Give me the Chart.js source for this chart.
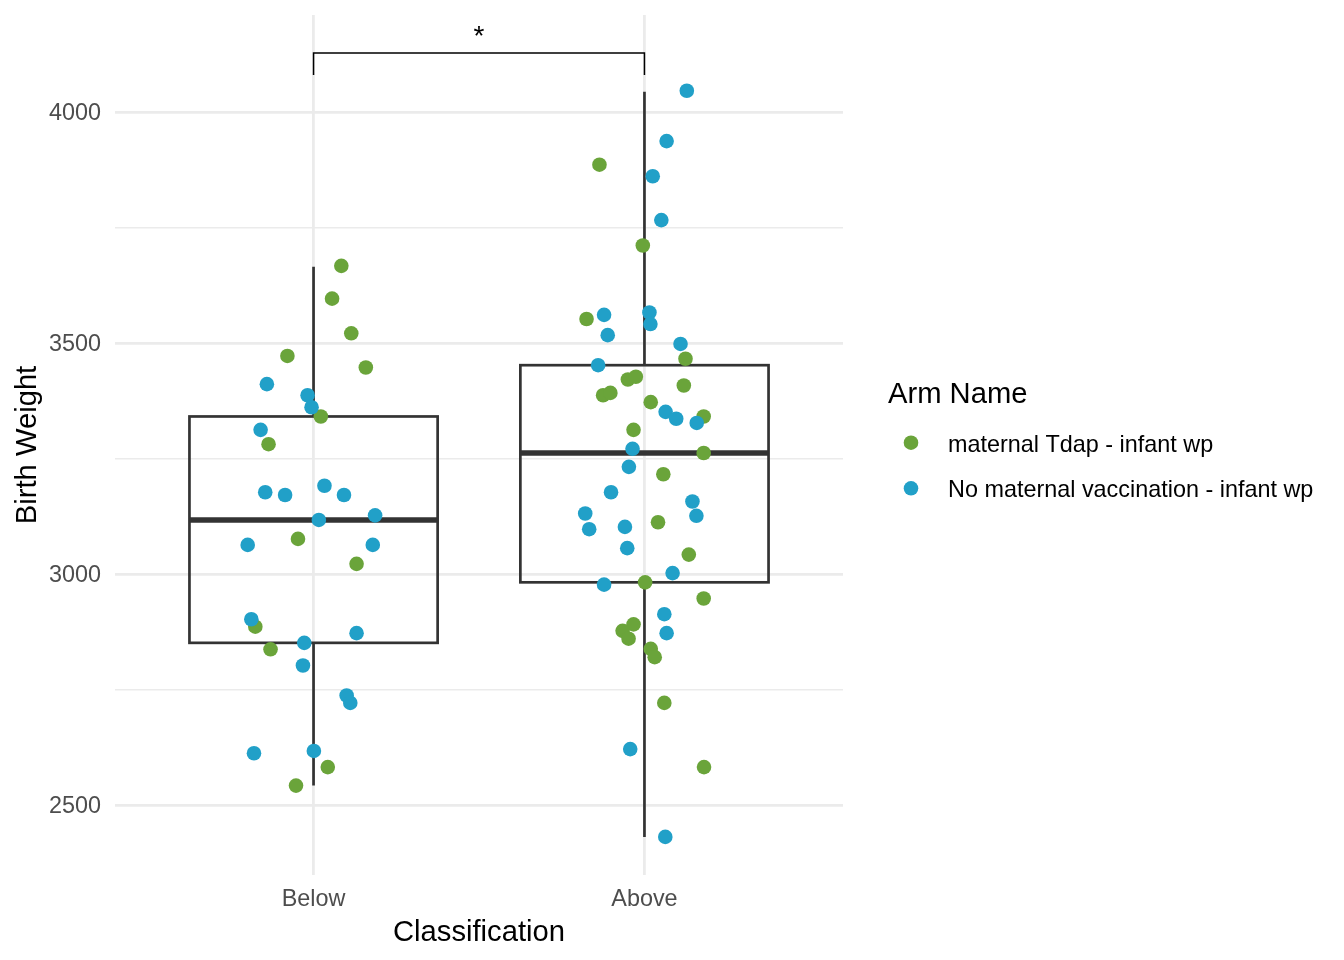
<!DOCTYPE html>
<html>
<head>
<meta charset="utf-8">
<title>Birth Weight by Classification</title>
<script src="https://cdn.jsdelivr.net/npm/chart.js@4.4.1/dist/chart.umd.min.js"></script>
<style>
  html, body { margin: 0; padding: 0; background: #ffffff; }
  #wrap { width: 1344px; height: 960px; position: relative; }
</style>
</head>
<body>
<div id="wrap"><canvas id="bwChart"></canvas></div>
<script>
// categories and tick values
const categories = ['Below', 'Above'];
const yGridValues = [2500, 2750, 3000, 3250, 3500, 3750, 4000];
const yTickLabels = [2500, 3000, 3500, 4000];
const seriesNames = ['maternal Tdap - infant wp', 'No maternal vaccination - infant wp'];

// jittered points: [x position (1 = Below, 2 = Above), birth weight]
const tdapBelow = [[1.084,3667],[1.056,3596],[1.114,3521],[0.921,3472],[1.158,3447],[1.022,3341],[0.864,3281],
  [0.953,3076],[1.130,3022],[0.824,2886],[0.870,2837],[1.043,2582],[0.947,2542]];
const noVaxBelow = [[0.859,3411],[0.982,3387],[0.994,3361],[0.840,3312],[0.854,3177],[0.914,3171],[1.033,3191],
  [1.092,3171],[1.186,3127],[1.016,3117],[0.801,3063],[1.179,3063],[0.812,2902],[0.972,2851],[1.130,2872],
  [0.968,2802],[1.100,2737],[1.111,2721],[0.820,2612],[1.001,2617]];
const tdapAbove = [[1.864,3886],[1.995,3711],[1.825,3552],[2.124,3466],[1.950,3421],[1.974,3427],[2.119,3408],
  [1.875,3387],[1.897,3392],[2.019,3372],[2.179,3341],[1.967,3312],[2.179,3262],[2.057,3216],[2.041,3112],
  [2.134,3042],[2.002,2982],[2.179,2947],[1.967,2891],[1.934,2877],[1.952,2860],[2.019,2838],[2.031,2820],
  [2.060,2721],[2.180,2582]];
const noVaxAbove = [[2.128,4046],[2.067,3937],[2.025,3861],[2.051,3766],[1.878,3561],[2.015,3566],[2.018,3541],
  [1.889,3517],[2.109,3498],[1.860,3452],[2.064,3351],[2.096,3336],[2.158,3327],[1.964,3271],[1.953,3232],
  [1.899,3177],[2.145,3157],[2.157,3126],[1.821,3131],[1.833,3097],[1.941,3102],[1.948,3056],[2.085,3002],
  [1.878,2977],[2.060,2913],[2.067,2872],[1.957,2621],[2.063,2431]];

// box plot summary per category
const boxLow = [2542, 2431];
const boxQ1 = [2851, 2982];
const boxMedian = [3117, 3262];
const boxQ3 = [3341, 3452];
const boxHigh = [3665, 4044];

// significance bracket
const bracketTop = 4128;
const bracketTip = 4080;
const bracketLabel = '*';

const GREEN = '#6aa43a';
const BLUE = '#21a0c8';
const FONT = "'Liberation Sans', Arial, Helvetica, sans-serif";

const toPoints = arr => arr.map(p => ({ x: p[0], y: p[1] }));

const boxPlot = {
  id: 'boxPlot',
  beforeDatasetsDraw(chart) {
    const { ctx, scales: { x, y } } = chart;
    ctx.save();
    ctx.strokeStyle = '#333333';
    categories.forEach((c, i) => {
      const cx = x.getPixelForValue(i + 1);
      const left = x.getPixelForValue(i + 1 - 0.375);
      const right = x.getPixelForValue(i + 1 + 0.375);
      const yq1 = y.getPixelForValue(boxQ1[i]);
      const yq3 = y.getPixelForValue(boxQ3[i]);
      ctx.lineWidth = 2.7;
      ctx.beginPath();
      ctx.moveTo(cx, y.getPixelForValue(boxHigh[i]));
      ctx.lineTo(cx, yq3);
      ctx.moveTo(cx, yq1);
      ctx.lineTo(cx, y.getPixelForValue(boxLow[i]));
      ctx.stroke();
      ctx.strokeRect(left, yq3, right - left, yq1 - yq3);
      ctx.lineWidth = 5.4;
      ctx.beginPath();
      const ym = y.getPixelForValue(boxMedian[i]);
      ctx.moveTo(left, ym);
      ctx.lineTo(right, ym);
      ctx.stroke();
    });

    // bracket between the two groups
    const x1 = x.getPixelForValue(1);
    const x2 = x.getPixelForValue(2);
    const yt = y.getPixelForValue(bracketTop);
    const yb = y.getPixelForValue(bracketTip);
    ctx.strokeStyle = '#000000';
    ctx.lineWidth = 1.5;
    ctx.beginPath();
    ctx.moveTo(x1, yb);
    ctx.lineTo(x1, yt);
    ctx.lineTo(x2, yt);
    ctx.lineTo(x2, yb);
    ctx.stroke();
    ctx.fillStyle = '#000000';
    ctx.font = '28px ' + FONT;
    ctx.textAlign = 'center';
    ctx.textBaseline = 'alphabetic';
    ctx.fillText(bracketLabel, (x1 + x2) / 2, yt - 8);
    ctx.restore();
  },
  afterDraw(chart) {
    const { ctx, chartArea } = chart;
    ctx.save();
    ctx.fillStyle = '#000000';
    ctx.textBaseline = 'alphabetic';
    ctx.font = '29.2px ' + FONT;

    // axis titles
    ctx.textAlign = 'center';
    ctx.fillText('Classification', (chartArea.left + chartArea.right) / 2, 941);
    ctx.save();
    ctx.translate(36, (chartArea.top + chartArea.bottom) / 2);
    ctx.rotate(-Math.PI / 2);
    ctx.fillText('Birth Weight', 0, 0);
    ctx.restore();

    // legend
    ctx.textAlign = 'left';
    ctx.fillText('Arm Name', 888, 403);
    ctx.font = '23.4px ' + FONT;
    const colors = [GREEN, BLUE];
    seriesNames.forEach((name, i) => {
      const cy = 442.7 + i * 45.6;
      ctx.fillStyle = colors[i];
      ctx.beginPath();
      ctx.arc(911, cy, 7.3, 0, Math.PI * 2);
      ctx.fill();
      ctx.fillStyle = '#000000';
      ctx.fillText(name, 948, cy + 9);
    });
    ctx.restore();
  }
};

new Chart(document.getElementById('bwChart'), {
  type: 'scatter',
  data: {
    datasets: [
      { label: seriesNames[0], data: toPoints(tdapBelow.concat(tdapAbove)), backgroundColor: GREEN, order: 2 },
      { label: seriesNames[1], data: toPoints(noVaxBelow.concat(noVaxAbove)), backgroundColor: BLUE, order: 1 }
    ]
  },
  options: {
    responsive: true,
    maintainAspectRatio: false,
    animation: false,
    layout: { padding: { top: 15, right: 501, left: 0, bottom: 0 } },
    elements: { point: { radius: 7.3, borderWidth: 0, hoverRadius: 7.3 } },
    plugins: { legend: { display: false }, tooltip: { enabled: false } },
    scales: {
      x: {
        type: 'linear',
        min: 0.4,
        max: 2.6,
        afterFit(s) { s.height = 85; s.paddingLeft = 0; s.paddingRight = 0; },
        afterBuildTicks(s) { s.ticks = categories.map((c, i) => ({ value: i + 1 })); },
        grid: { color: '#ebebeb', lineWidth: 2.8, drawTicks: false },
        border: { display: false },
        ticks: {
          padding: 11,
          color: '#4d4d4d',
          font: { family: FONT, size: 23.4 },
          callback: v => categories[v - 1]
        }
      },
      y: {
        type: 'linear',
        min: 2348.5,
        max: 4210,
        afterFit(s) { s.width = 115; s.paddingTop = 0; s.paddingBottom = 0; },
        afterBuildTicks(s) { s.ticks = yGridValues.map(v => ({ value: v })); },
        grid: {
          color: '#ebebeb',
          drawTicks: false,
          lineWidth: c => (yTickLabels.includes(c.tick && c.tick.value) ? 2.8 : 1.4)
        },
        border: { display: false },
        ticks: {
          padding: 14,
          labelOffset: 2,
          color: '#4d4d4d',
          font: { family: FONT, size: 23.4 },
          callback: v => (yTickLabels.includes(v) ? String(v) : '')
        }
      }
    }
  },
  plugins: [boxPlot]
});
</script>
</body>
</html>
